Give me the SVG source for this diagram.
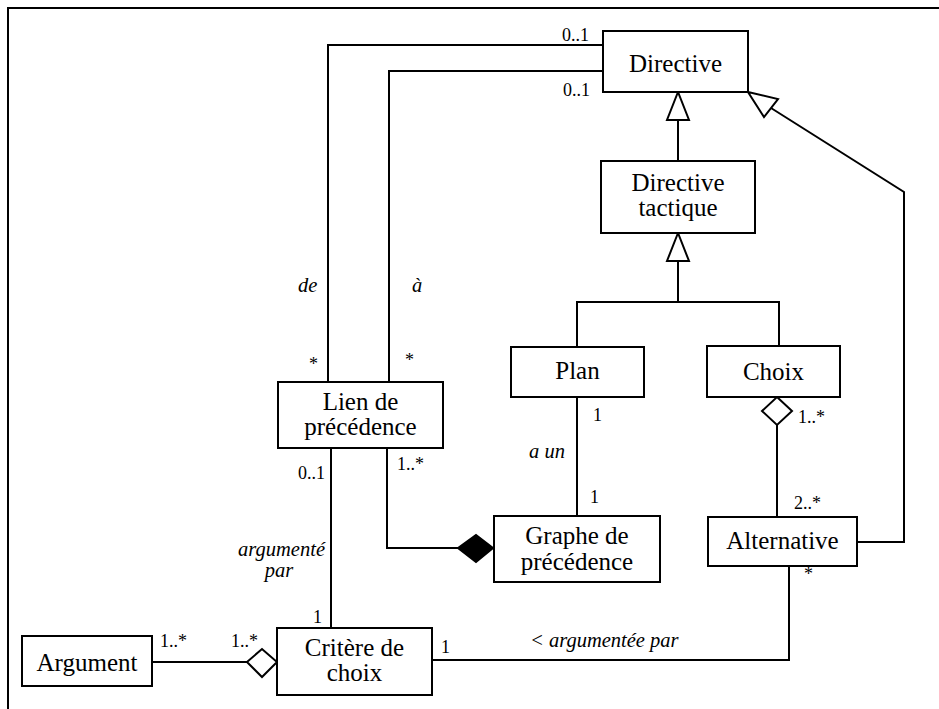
<svg xmlns="http://www.w3.org/2000/svg" width="939" height="709" viewBox="0 0 939 709">
  <style>
    .box { fill: #fff; stroke: #000; stroke-width: 2; }
    .ln { fill: none; stroke: #000; stroke-width: 2; }
    .hollow { fill: #fff; stroke: #000; stroke-width: 2; stroke-linejoin: miter; }
    .solid { fill: #000; stroke: #000; stroke-width: 2; }
    text { font-family: 'Liberation Serif', 'Times New Roman', serif; fill: #000; }
    .name { font-size: 25px; text-anchor: middle; }
    .mult { font-size: 18px; }
    .role { font-size: 20.5px; font-style: italic; }
  </style>

  <rect width="939" height="709" fill="#fff"/>
  <!-- frame -->
  <polyline class="ln" points="8,709 8,8 939,8"/>

  <g id="connectors">
    <!-- Lien de précédence "de" Directive -->
    <polyline class="ln" points="603,45 328,45 328,382"/>
    <!-- Lien de précédence "à" Directive -->
    <polyline class="ln" points="603,71 389,71 389,382"/>
    <!-- Directive tactique generalises to Directive -->
    <line class="ln" x1="678" y1="161" x2="678" y2="120"/>
    <polygon class="hollow" points="678,92 667,120 689,120"/>
    <!-- Plan and Choix generalise to Directive tactique -->
    <polyline class="ln" points="577,347 577,302 779,302 779,346"/>
    <line class="ln" x1="678" y1="302" x2="678" y2="261"/>
    <polygon class="hollow" points="678,233 667,261 689,261"/>
    <!-- Alternative generalises to Directive -->
    <polyline class="ln" points="857,542 904,542 904,192 771,108"/>
    <polygon class="hollow" points="748,92 778,99 764,117"/>
    <!-- Choix aggregates Alternative -->
    <line class="ln" x1="777" y1="425" x2="777" y2="517"/>
    <polygon class="hollow" points="777,397 792,411 777,425 762,411"/>
    <!-- Plan a un Graphe de précédence -->
    <line class="ln" x1="577" y1="397" x2="577" y2="516"/>
    <!-- Graphe de précédence composes Lien de précédence -->
    <polyline class="ln" points="387,448 387,548 458,548"/>
    <polygon class="solid" points="458,548 476,535 493,548 476,562"/>
    <!-- Lien de précédence argumenté par Critère de choix -->
    <line class="ln" x1="331" y1="448" x2="331" y2="628"/>
    <!-- Critère de choix aggregates Argument -->
    <line class="ln" x1="152" y1="662" x2="247" y2="662"/>
    <polygon class="hollow" points="247,662 262,649 277,662 262,677"/>
    <!-- Alternative argumentée par Critère de choix -->
    <polyline class="ln" points="432,660 789,660 789,566"/>
  </g>

  <g id="labels">
    <text class="mult" x="562" y="41">0..1</text>
    <text class="mult" x="563" y="96">0..1</text>
    <text class="role" x="298" y="292">de</text>
    <text class="role" x="412" y="292">à</text>
    <text class="mult" x="309" y="370">*</text>
    <text class="mult" x="405" y="366">*</text>
    <text class="mult" x="298" y="479">0..1</text>
    <text class="mult" x="397" y="470">1..*</text>
    <text class="mult" x="593" y="421">1</text>
    <text class="role" x="529" y="458">a un</text>
    <text class="mult" x="590" y="503">1</text>
    <text class="mult" x="798" y="423">1..*</text>
    <text class="mult" x="794" y="509">2..*</text>
    <text class="mult" x="804" y="580">*</text>
    <text class="role" x="325" y="556" text-anchor="end">argumenté</text>
    <text class="role" x="279" y="577" text-anchor="middle">par</text>
    <text class="mult" x="313" y="623">1</text>
    <text class="mult" x="441" y="653">1</text>
    <text class="mult" x="160" y="647">1..*</text>
    <text class="mult" x="231" y="647">1..*</text>
    <text class="role" x="530" y="647">&lt; argumentée par</text>
  </g>

  <g id="directive">
    <rect class="box" x="603" y="31" width="145" height="61"/>
    <text class="name" x="675.5" y="72">Directive</text>
  </g>
  <g id="directive-tactique">
    <rect class="box" x="601" y="161" width="154" height="72"/>
    <text class="name" x="678" y="191">Directive</text>
    <text class="name" x="678" y="216">tactique</text>
  </g>
  <g id="plan">
    <rect class="box" x="511" y="347" width="133" height="50"/>
    <text class="name" x="577.5" y="379">Plan</text>
  </g>
  <g id="choix">
    <rect class="box" x="707" y="346" width="133" height="51"/>
    <text class="name" x="773.5" y="380">Choix</text>
  </g>
  <g id="lien-de-precedence">
    <rect class="box" x="278" y="382" width="165" height="66"/>
    <text class="name" x="360.5" y="410">Lien de</text>
    <text class="name" x="360.5" y="435">précédence</text>
  </g>
  <g id="graphe-de-precedence">
    <rect class="box" x="494" y="516" width="166" height="66"/>
    <text class="name" x="577" y="544">Graphe de</text>
    <text class="name" x="577" y="570">précédence</text>
  </g>
  <g id="alternative">
    <rect class="box" x="708" y="517" width="149" height="49"/>
    <text class="name" x="782.5" y="549">Alternative</text>
  </g>
  <g id="argument">
    <rect class="box" x="22" y="636" width="130" height="50"/>
    <text class="name" x="87" y="671">Argument</text>
  </g>
  <g id="critere-de-choix">
    <rect class="box" x="277" y="628" width="155" height="67"/>
    <text class="name" x="354.5" y="656">Critère de</text>
    <text class="name" x="354.5" y="681">choix</text>
  </g>
</svg>
